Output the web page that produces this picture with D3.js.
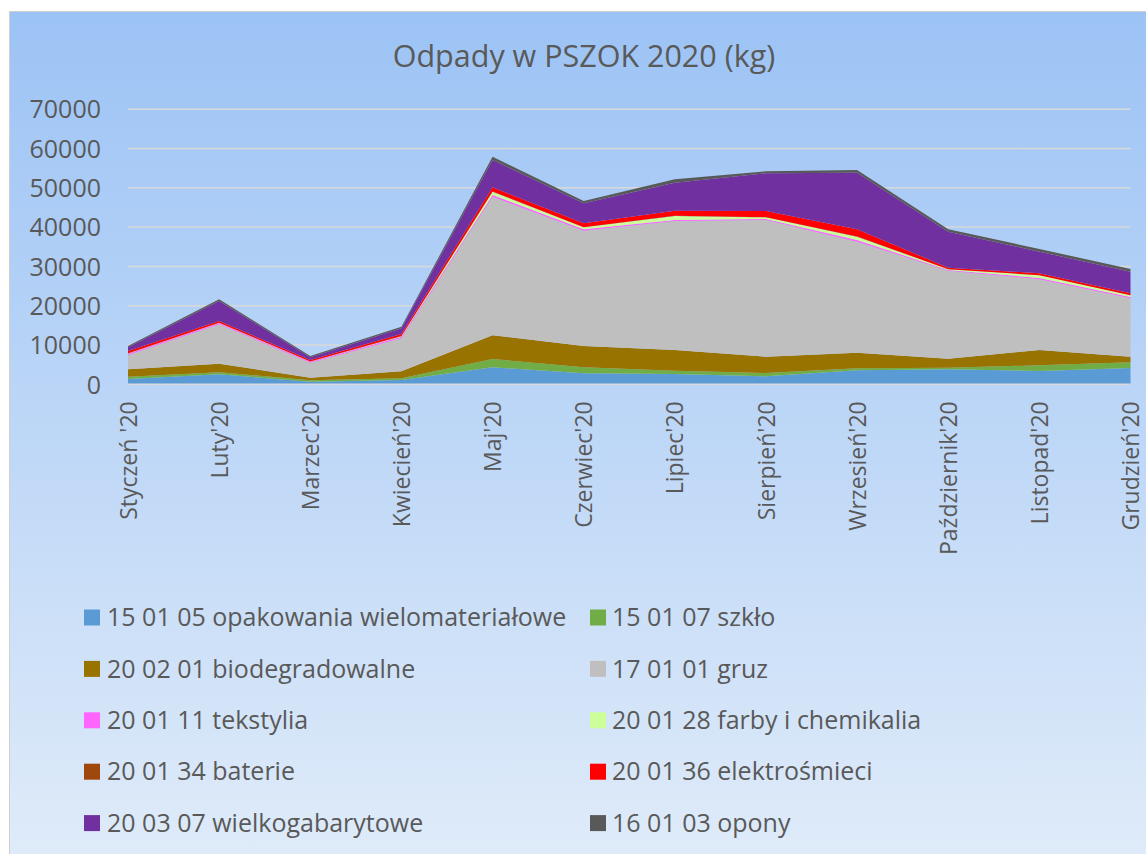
<!DOCTYPE html>
<html>
<head>
<meta charset="utf-8">
<script src="https://cdn.jsdelivr.net/npm/d3@7"></script>
<style>
  body { margin: 0; background: #fff; }
  svg { display: block; font-family: "Open Sans", sans-serif; }
</style>
</head>
<body>
<svg id="chart" width="1146" height="854"></svg>
<script>
// months on the x axis
const months = ["Styczeń '20", "Luty'20", "Marzec'20", "Kwiecień'20", "Maj'20", "Czerwiec'20",
  "Lipiec'20", "Sierpień'20", "Wrzesień'20", "Październik'20", "Listopad'20", "Grudzień'20"];

// series in stacking order (kg)
const opakowania = [1350, 2540, 660, 1090, 4330, 2800, 2620, 2030, 3560, 3820, 3380, 4150];
const szklo      = [580, 510, 360, 440, 2110, 1530, 840, 850, 510, 410, 1450, 1450];
const bio        = [1870, 2190, 660, 1770, 6030, 5420, 5270, 4140, 3970, 2290, 3900, 1420];
const gruz       = [3660, 10030, 3820, 8400, 35280, 29340, 32830, 34790, 28250, 22390, 17990, 14870];
const tekstylia  = [300, 300, 250, 400, 430, 360, 250, 250, 430, 200, 330, 300];
const farby      = [100, 100, 50, 150, 840, 510, 1020, 440, 840, 160, 690, 460];
const baterie    = [20, 20, 10, 20, 30, 30, 30, 30, 40, 20, 20, 20];
const elektro    = [590, 420, 370, 530, 1080, 980, 1320, 1570, 1850, 390, 490, 490];
const wielko     = [940, 5090, 690, 1450, 6950, 5090, 7130, 9600, 14410, 9160, 5500, 5500];
const opony      = [330, 430, 330, 410, 840, 590, 860, 500, 680, 610, 680, 680];

const seriesNames = ["15 01 05 opakowania wielomateriałowe", "15 01 07 szkło", "20 02 01 biodegradowalne",
  "17 01 01 gruz", "20 01 11 tekstylia", "20 01 28 farby i chemikalia", "20 01 34 baterie",
  "20 01 36 elektrośmieci", "20 03 07 wielkogabarytowe", "16 01 03 opony"];
const seriesValues = [opakowania, szklo, bio, gruz, tekstylia, farby, baterie, elektro, wielko, opony];
const colors = ["#5B9BD5", "#70AD47", "#997300", "#BFBFBF", "#FF66FF", "#CCFF99", "#9E480E",
  "#FF0000", "#7030A0", "#595959"];
const yTicks = [0, 10000, 20000, 30000, 40000, 50000, 60000, 70000];

const svg = d3.select("#chart");
const width = 1146, height = 854;
const textColor = "#595959";

// background
const defs = svg.append("defs");
const grad = defs.append("linearGradient").attr("id", "bg").attr("x1", 0).attr("y1", 0).attr("x2", 0).attr("y2", 1);
grad.append("stop").attr("offset", "0%").attr("stop-color", "#9CC3F5");
grad.append("stop").attr("offset", "100%").attr("stop-color", "#DFEBF9");
svg.append("rect")
  .attr("x", 9.5).attr("y", 11.5).attr("width", width - 9).attr("height", height - 11)
  .attr("fill", "url(#bg)").attr("stroke", "#D0D0D0").attr("stroke-width", 1);

// title
svg.append("text")
  .attr("x", 584).attr("y", 67)
  .attr("text-anchor", "middle")
  .attr("font-size", 30.5)
  .attr("fill", textColor)
  .text("Odpady w PSZOK 2020 (kg)");

// scales
const x = d3.scalePoint().domain(months).range([128, 1130.5]);
const y = d3.scaleLinear().domain([0, 70000]).range([384.3, 109.2]);

// gridlines
svg.append("g").selectAll("line").data(yTicks.slice(1)).join("line")
  .attr("x1", 128).attr("x2", 1130.5)
  .attr("y1", d => y(d)).attr("y2", d => y(d))
  .attr("stroke", "#D9D9D9").attr("stroke-width", 1.5);

// stacked areas
const table = months.map((m, i) => {
  const row = {month: m};
  seriesNames.forEach((n, k) => row[n] = seriesValues[k][i]);
  return row;
});
const stack = d3.stack().keys(seriesNames);
const layers = stack(table);
const area = d3.area()
  .x(d => x(d.data.month))
  .y0(d => y(d[0]))
  .y1(d => y(d[1]));
svg.append("g").selectAll("path").data(layers).join("path")
  .attr("d", area)
  .attr("fill", (d, i) => colors[i]);

// baseline
svg.append("line")
  .attr("x1", 128).attr("x2", 1130.5)
  .attr("y1", y(0)).attr("y2", y(0))
  .attr("stroke", "#D9D9D9").attr("stroke-width", 1.5);

// y axis labels
const yAxis = svg.append("g")
  .attr("transform", "translate(101,0)")
  .call(d3.axisLeft(y).tickValues(yTicks).tickSize(0).tickPadding(0).tickFormat(d3.format("d")));
yAxis.select(".domain").remove();
yAxis.selectAll("text")
  .attr("font-family", "Open Sans, sans-serif")
  .attr("font-size", 25)
  .attr("fill", textColor)
  .attr("dy", "0.35em");

// x axis labels (rotated)
const xAxis = svg.append("g")
  .attr("transform", `translate(0,${y(0)})`)
  .call(d3.axisBottom(x).tickSize(0).tickPadding(0));
xAxis.select(".domain").remove();
xAxis.selectAll("text")
  .attr("font-family", "Open Sans, sans-serif")
  .attr("font-size", 23)
  .attr("fill", textColor)
  .attr("text-anchor", "end")
  .attr("transform", "rotate(-90)")
  .attr("x", -17)
  .attr("y", 0)
  .attr("dy", "0.35em");

// legend, two columns
const legend = svg.append("g");
const colX = [84, 590];
seriesNames.forEach((n, i) => {
  const col = i % 2, row = Math.floor(i / 2);
  const cy = 617.5 + row * 51.4;
  const g = legend.append("g").attr("transform", `translate(${colX[col]},${cy})`);
  g.append("rect").attr("x", 0).attr("y", -8).attr("width", 16).attr("height", 16).attr("fill", colors[i]);
  g.append("text")
    .attr("x", col === 0 ? 23 : 22).attr("y", 0).attr("dy", "0.35em")
    .attr("font-size", 25)
    .attr("fill", textColor)
    .text(n);
});
</script>
</body>
</html>
